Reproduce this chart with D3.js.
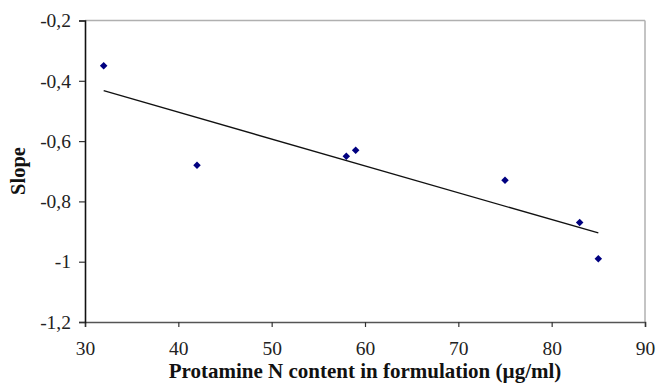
<!DOCTYPE html>
<html lang="en">
<head>
<meta charset="utf-8">
<title>Slope vs protamine N content</title>
<script src="https://d3js.org/d3.v7.min.js"></script>
<style>
body { margin: 0; background: #fff; }
svg { display: block; font-family: "Liberation Serif", "Times New Roman", serif; }
</style>
</head>
<body>
<script>
// data
var protamineN = [32, 42, 58, 59, 75, 83, 85];
var slopeVals = [-0.35, -0.68, -0.65, -0.63, -0.73, -0.87, -0.99];
var xTicks = [30, 40, 50, 60, 70, 80, 90];
var yTicks = [-0.2, -0.4, -0.6, -0.8, -1, -1.2];

var width = 656, height = 388;
var pLeft = 85, pRight = 645, pTop = 20.5, pBottom = 322;
var serif = "'Liberation Serif', 'Times New Roman', serif";

var svg = d3.select("body").append("svg").attr("width", width).attr("height", height);

var x = d3.scaleLinear().domain([30, 90]).range([pLeft, pRight]);
var y = d3.scaleLinear().domain([-1.2, -0.2]).range([pBottom, pTop]);

// frame (top/right light grey)
svg.append("line").attr("x1", pLeft).attr("x2", pRight).attr("y1", pTop).attr("y2", pTop)
  .attr("stroke", "#b0b0b0").attr("stroke-width", 1.5);
svg.append("line").attr("x1", pRight).attr("x2", pRight).attr("y1", pTop).attr("y2", pBottom)
  .attr("stroke", "#b0b0b0").attr("stroke-width", 1.5);

function fmt(v) { return String(+v.toFixed(1)).replace(".", ","); }

var xAxis = svg.append("g").attr("transform", "translate(0," + pBottom + ")")
  .call(d3.axisBottom(x).tickValues(xTicks).tickSize(5).tickPadding(14).tickFormat(d3.format("d")));
var yAxis = svg.append("g").attr("transform", "translate(" + pLeft + ",0)")
  .call(d3.axisLeft(y).tickValues(yTicks).tickSize(6).tickPadding(8).tickFormat(fmt));

xAxis.attr("font-family", serif).attr("font-size", 19.5);
yAxis.attr("font-family", serif).attr("font-size", 19.5);
xAxis.select(".domain").attr("stroke", "#555").attr("stroke-width", 1.6);
yAxis.select(".domain").attr("stroke", "#111").attr("stroke-width", 1.6);
svg.selectAll(".tick line").attr("stroke", "#333").attr("stroke-width", 1.2);
svg.selectAll(".tick text").attr("fill", "#222");

// linear trend
var mx = d3.mean(protamineN), my = d3.mean(slopeVals);
var sxy = d3.sum(protamineN, function(v, i) { return (v - mx) * (slopeVals[i] - my); });
var sxx = d3.sum(protamineN, function(v) { return (v - mx) * (v - mx); });
var b = sxy / sxx, a = my - b * mx;
var xr = d3.extent(protamineN);
svg.append("path")
  .attr("d", d3.line()(xr.map(function(v) { return [x(v), y(a + b * v)]; })))
  .attr("stroke", "#111").attr("stroke-width", 1.3).attr("fill", "none");

// points
svg.append("g").selectAll("path")
  .data(protamineN)
  .enter().append("path")
  .attr("d", d3.symbol().type(d3.symbolDiamond2).size(36))
  .attr("transform", function(d, i) { return "translate(" + x(d) + "," + y(slopeVals[i]) + ")"; })
  .attr("fill", "#000080");

// axis titles
svg.append("text").attr("x", (pLeft + pRight) / 2).attr("y", 378)
  .attr("text-anchor", "middle").attr("font-size", 21).attr("font-weight", "bold")
  .attr("font-family", serif).attr("fill", "#111")
  .text("Protamine N content in formulation (µg/ml)");
svg.append("text").attr("transform", "translate(25,171) rotate(-90)")
  .attr("text-anchor", "middle").attr("font-size", 20.5).attr("font-weight", "bold")
  .attr("font-family", serif).attr("fill", "#111").text("Slope");
</script>
</body>
</html>
